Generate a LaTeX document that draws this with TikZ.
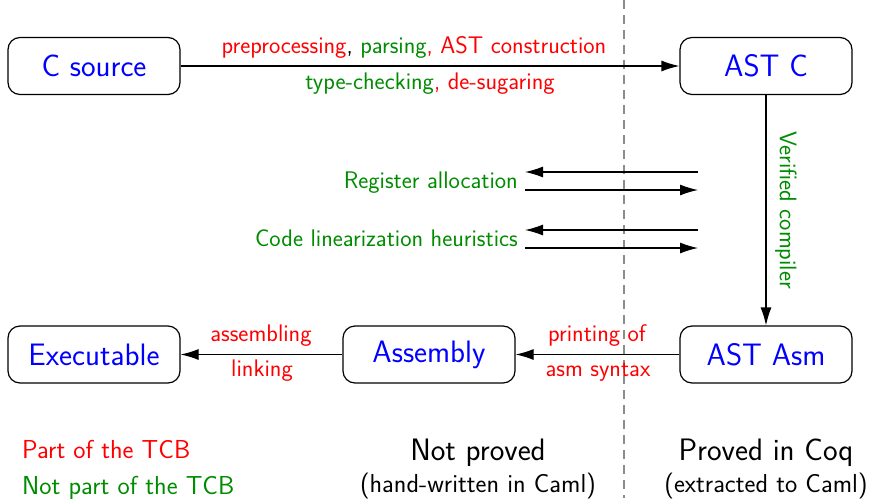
\documentclass[tikz,border=0pt]{standalone}
\usetikzlibrary{arrows.meta}
\definecolor{lgreen}{RGB}{0,140,0}
\newcommand{\bigf}{\fontsize{31}{34}\selectfont}
\newcommand{\midf}{\fontsize{26}{30}\selectfont}
\newcommand{\smlf}{\fontsize{24}{28}\selectfont}
\begin{document}
\begin{tikzpicture}[x=1pt,y=-1pt,
  box/.style={draw,line width=1.2pt,rounded corners=12pt,minimum width=172pt,minimum height=57pt,text=blue,font=\sffamily\bigf,inner sep=0pt},
  arr/.style={line width=1.2pt,-{Latex[length=18pt,width=11pt]}},
  lbl/.style={font=\sffamily\smlf,inner sep=0pt,anchor=base},
  foot/.style={font=\sffamily\midf,inner sep=0pt,anchor=base}]
\useasboundingbox (0,0) rectangle (870,498);
\draw[gray!90,line width=2pt,dash pattern=on 9pt off 6pt] (624,0) -- (624,498);
\node[box] (csrc) at (94,66) {C source};
\node[box] (astc) at (766,66) {AST C};
\node[box] (exe) at (94,354.5) {Executable};
\node[box] (asm) at (429,354.5) {Assembly};
\node[box] (astasm) at (766,354.5) {AST Asm};
\draw[arr] (csrc) -- (astc);
\node[lbl] (l1) at (414,53) {\textcolor{red}{preprocessing}, \textcolor{lgreen}{parsing}\textcolor{red}{, AST construction}};
\node[lbl] (l2) at (430,89) {\textcolor{lgreen}{type-checking}\textcolor{red}{, de-sugaring}};
\draw[arr] (astc) -- (astasm);
\node[font=\sffamily\smlf,inner sep=0pt,rotate=-90,anchor=center,text=lgreen] (vc) at (786,210) {Verified compiler};
\draw[arr] (astasm) -- (asm);
\node[lbl,text=red] (pa) at (597,341) {printing of};
\node[lbl,text=red] (pb) at (598,376) {asm syntax};
\draw[arr] (asm) -- (exe);
\node[lbl,text=red] (aa) at (261,341) {assembling};
\node[lbl,text=red] (ab) at (262,376) {linking};
\coordinate (r1a) at (698,172); \coordinate (r1b) at (525,172);
\coordinate (r2a) at (525,190); \coordinate (r2b) at (698,190);
\coordinate (c1a) at (698,230); \coordinate (c1b) at (525,230);
\coordinate (c2a) at (525,248); \coordinate (c2b) at (698,248);
\draw[arr] (r1a) -- (r1b);
\draw[arr] (r2a) -- (r2b);
\draw[arr] (c1a) -- (c1b);
\draw[arr] (c2a) -- (c2b);
\node[lbl,text=lgreen,anchor=base east] (ra) at (518,188) {Register allocation};
\node[lbl,text=lgreen,anchor=base east] (cl) at (518,246) {Code linearization heuristics};
\node[foot,text=red,anchor=base west] (tcb1) at (22,458) {Part of the TCB};
\node[foot,text=lgreen,anchor=base west] (tcb2) at (22,494) {Not part of the TCB};
\node[font=\sffamily\bigf,inner sep=0pt,anchor=base] (np) at (478,460) {Not proved};
\node[foot] (hw) at (478,492) {(hand-written in Caml)};
\node[font=\sffamily\bigf,inner sep=0pt,anchor=base] (pc) at (766,460) {Proved in Coq};
\node[foot] (ex) at (766,492) {(extracted to Caml)};
\end{tikzpicture}
\end{document}
